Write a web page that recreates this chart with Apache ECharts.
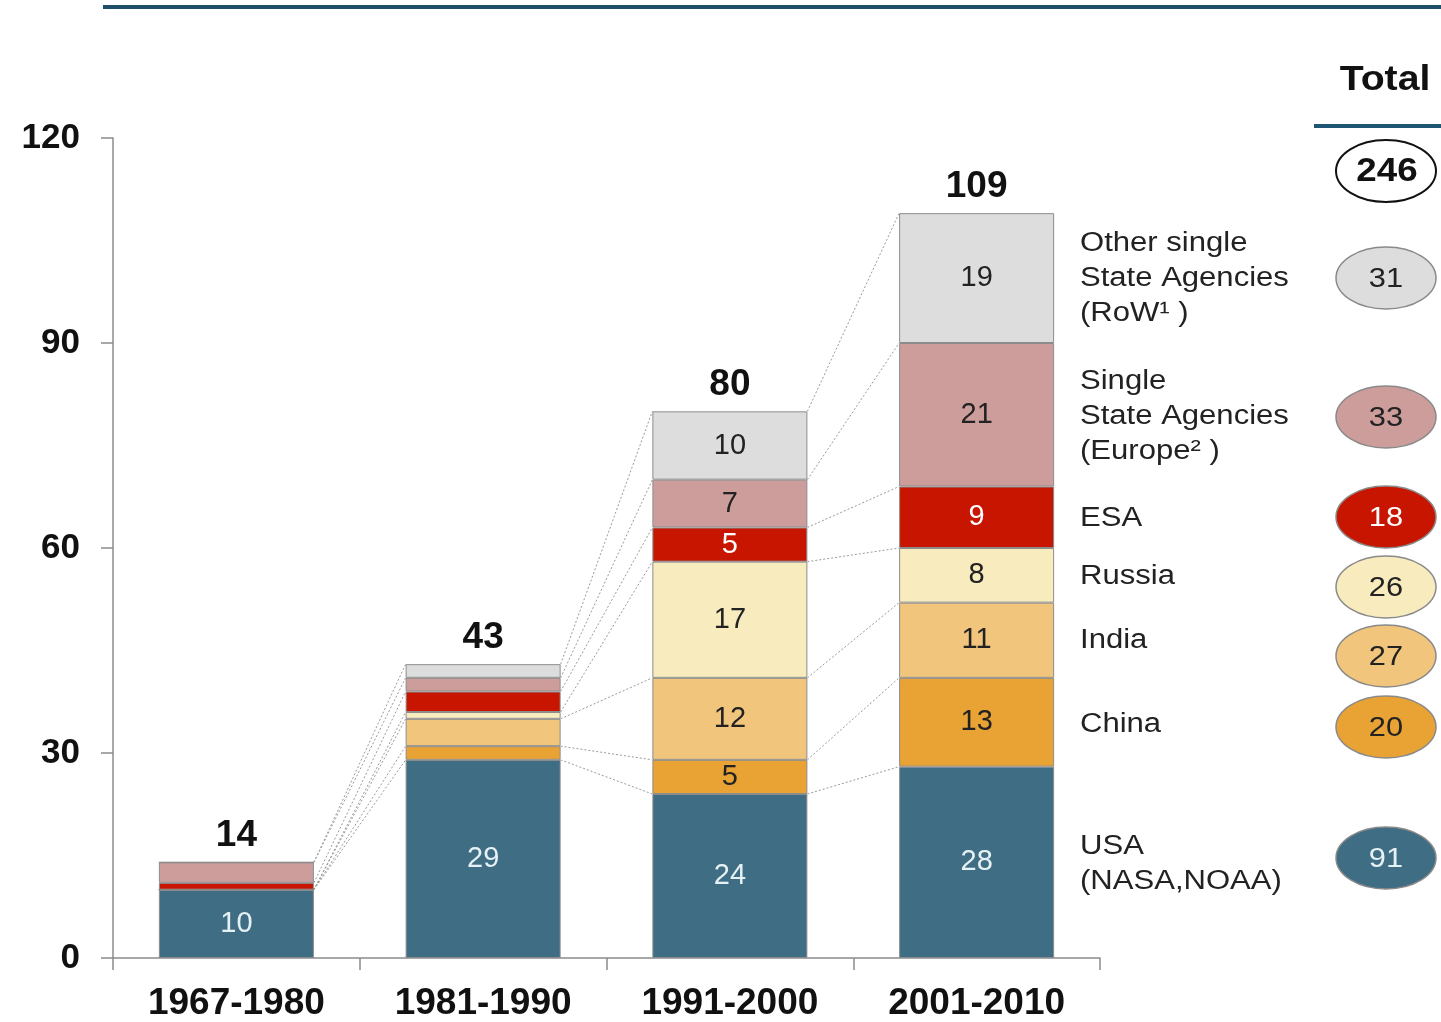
<!DOCTYPE html>
<html>
<head>
<meta charset="utf-8">
<script src="https://cdn.jsdelivr.net/npm/echarts@6/dist/echarts.min.js"></script>
<style>
html,body{margin:0;padding:0;background:#fff;}
#chart{width:1441px;height:1022px;}
</style>
</head>
<body>
<div id="chart"></div>
<script>
// ---- data ----
var categories = ['1967-1980', '1981-1990', '1991-2000', '2001-2010'];
var usa    = [10, 29, 24, 28];
var china  = [0, 2, 5, 13];
var india  = [0, 4, 12, 11];
var russia = [0, 1, 17, 8];
var esa    = [1, 3, 5, 9];
var europe = [3, 2, 7, 21];
var row    = [0, 2, 10, 19];
var yTicks = [0, 30, 60, 90, 120];

var seriesNames = ['USA', 'China', 'India', 'Russia', 'ESA', 'Europe', 'RoW'];
var seriesData = [usa, china, india, russia, esa, europe, row];
var colors = ['#3e6d84', '#e9a234', '#f2c57c', '#f8ecbe', '#c81500', '#cd9d9c', '#dddddd'];
var labelColors = ['#e6f1f6', '#222', '#222', '#222', '#ffffff', '#222', '#222'];
var sideLabels = ['USA\n(NASA,NOAA)', 'China', 'India', 'Russia', 'ESA',
  'Single\nState Agencies\n(Europe² )', 'Other single\nState Agencies\n(RoW¹ )'];
var sideLabelY = [864, 725, 641, 577, 519, 417, 279];
var ellipseY = [858, 727, 656, 587, 517, 417, 278];

// derived
var totals = categories.map(function (c, i) {
  return seriesData.reduce(function (s, arr) { return s + arr[i]; }, 0);
});
var seriesTotals = seriesData.map(function (arr) {
  return arr.reduce(function (s, v) { return s + v; }, 0);
});
var grand = seriesTotals.reduce(function (s, v) { return s + v; }, 0);
var cum = seriesData.map(function (arr, k) {
  return categories.map(function (c, i) {
    var s = 0;
    for (var j = 0; j <= k; j++) s += seriesData[j][i];
    return s;
  });
});

var BAR_W = 155;
var FONT = '"Liberation Sans", Arial, sans-serif';

var chart = echarts.init(document.getElementById('chart'));

var series = seriesData.map(function (arr, k) {
  return {
    name: seriesNames[k],
    type: 'bar',
    stack: 'total',
    barWidth: BAR_W,
    data: arr,
    itemStyle: { color: colors[k], borderColor: '#8c8c8c', borderWidth: 1 },
    label: {
      show: true,
      position: 'inside',
      fontFamily: FONT,
      fontSize: 29,
      color: labelColors[k],
      formatter: function (p) { return p.value >= 5 ? String(p.value) : ''; }
    },
    z: 3
  };
});

series.push({
  type: 'scatter',
  data: totals,
  symbolSize: 0,
  itemStyle: { opacity: 1 },
  label: {
    show: true, position: 'top', distance: 8,
    fontFamily: FONT, fontSize: 37, fontWeight: 'bold', color: '#111'
  },
  z: 5
});

series.push({
  type: 'custom',
  data: [[0, 0], [1, 0], [2, 0]],
  encode: { x: 0, y: 1 },
  clip: false,
  z: 1,
  renderItem: function (params, api) {
    var i = api.value(0);
    var children = [];
    for (var k = 0; k < cum.length; k++) {
      var p1 = api.coord([i, cum[k][i]]);
      var p2 = api.coord([i + 1, cum[k][i + 1]]);
      children.push({
        type: 'line',
        shape: { x1: p1[0] + BAR_W / 2, y1: p1[1], x2: p2[0] - BAR_W / 2, y2: p2[1] },
        style: { stroke: '#9a9a9a', lineWidth: 1, lineDash: [2, 2] }
      });
    }
    return { type: 'group', children: children };
  }
});

var graphics = [
  { type: 'line', shape: { x1: 103, y1: 7, x2: 1441, y2: 7 }, style: { stroke: '#1d4f6a', lineWidth: 4 } },
  { type: 'text', x: 1385, y: 80, scaleX: 1.12, style: { text: 'Total', font: 'bold 35px ' + FONT, fill: '#111', align: 'center', verticalAlign: 'middle' } },
  { type: 'line', shape: { x1: 1314, y1: 126, x2: 1441, y2: 126 }, style: { stroke: '#1d5573', lineWidth: 4 } },
  { type: 'ellipse', shape: { cx: 1386, cy: 171, rx: 50, ry: 31 }, style: { fill: '#fff', stroke: '#111', lineWidth: 2 } },
  { type: 'text', x: 1387, y: 172, scaleX: 1.08, style: { text: String(grand), font: 'bold 34px ' + FONT, fill: '#111', align: 'center', verticalAlign: 'middle' } }
];
for (var k = 0; k < seriesNames.length; k++) {
  graphics.push({
    type: 'text', x: 1080, y: sideLabelY[k], scaleX: 1.15,
    style: { text: sideLabels[k], font: '27px ' + FONT, lineHeight: 35, fill: '#222', align: 'left', verticalAlign: 'middle' }
  });
  graphics.push({
    type: 'ellipse', shape: { cx: 1386, cy: ellipseY[k], rx: 50, ry: 31 },
    style: { fill: colors[k], stroke: '#8a8a8a', lineWidth: 1.5 }
  });
  graphics.push({
    type: 'text', x: 1386, y: ellipseY[k] + 1, scaleX: 1.1,
    style: { text: String(seriesTotals[k]), font: '28px ' + FONT, fill: labelColors[k], align: 'center', verticalAlign: 'middle' }
  });
}

chart.setOption({
  animation: false,
  backgroundColor: '#ffffff',
  grid: { left: 113, right: 341, top: 138, bottom: 64, containLabel: false },
  xAxis: {
    type: 'category',
    data: categories,
    axisLine: { lineStyle: { color: '#8c8c8c', width: 1.5 } },
    axisTick: { show: true, length: 12, lineStyle: { color: '#8c8c8c', width: 1.5 } },
    axisLabel: { fontFamily: FONT, fontSize: 37, fontWeight: 'bold', color: '#111', margin: 27 }
  },
  yAxis: {
    type: 'value',
    min: yTicks[0], max: yTicks[yTicks.length - 1], interval: 30,
    axisLine: { show: true, lineStyle: { color: '#8c8c8c', width: 1.5 } },
    axisTick: { show: true, length: 12, lineStyle: { color: '#8c8c8c', width: 1.5 } },
    splitLine: { show: false },
    axisLabel: { fontFamily: FONT, fontSize: 35, fontWeight: 'bold', color: '#111', margin: 33 }
  },
  series: series,
  graphic: graphics
});
</script>
</body>
</html>
